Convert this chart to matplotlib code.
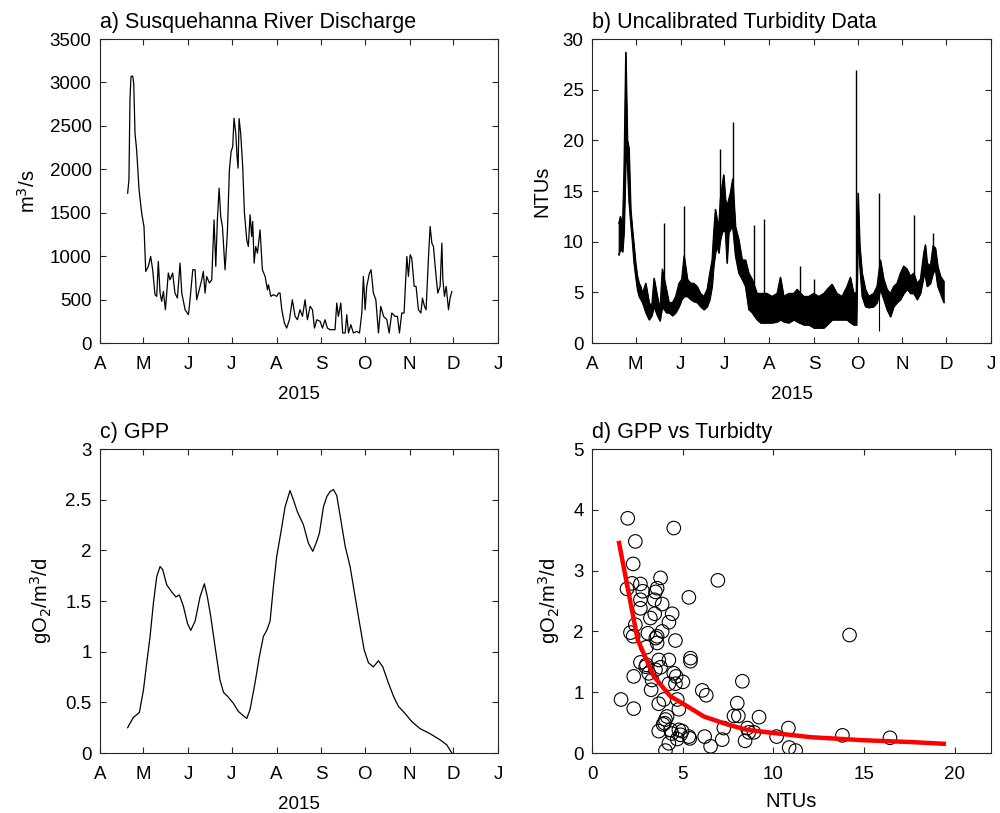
import numpy as np
import matplotlib
matplotlib.use('Agg')
import matplotlib.pyplot as plt

plt.rcParams['font.family'] = ['Liberation Sans', 'DejaVu Sans']

# month ticks, days since 1 Apr 2015
month_days = [0, 30, 61, 91, 122, 153, 183, 214, 244, 275]
month_labels = ['A', 'M', 'J', 'J', 'A', 'S', 'O', 'N', 'D', 'J']

# a) discharge (days since 1 Apr, m3/s)
q_day = [19.1, 20.0, 20.7, 21.4, 22.6, 23.3, 24.2, 25.3, 27.0, 28.8, 30.4, 31.6, 33.4, 35.0,
         36.4, 38.0, 39.2, 40.3, 41.5, 42.6, 43.8, 45.2, 47.2, 48.4, 50.2, 51.8, 53.5, 55.3,
         56.5, 58.8, 61.1, 62.2, 64.1, 65.7, 66.8, 68.0, 70.3, 71.4, 72.6, 73.7, 75.6, 77.2,
         78.8, 80.0, 81.1, 82.3, 83.4, 84.6, 86.4, 88.0, 89.4, 90.6, 91.7, 92.6, 93.8, 94.7,
         95.4, 96.1, 97.2, 98.6, 99.8, 101.4, 102.5, 103.7, 104.8, 105.5, 106.5, 107.6, 108.8,
         110.6, 112.2, 114.1, 115.7, 116.4, 118.0, 119.8, 122.1, 123.3, 124.4, 125.6, 127.4,
         129.0, 130.9, 132.9, 134.8, 136.4, 138.2, 139.9, 141.7, 143.3, 145.2, 146.8, 148.2,
         149.8, 152.1, 153.7, 155.5, 157.1, 159.0, 162.4, 163.6, 164.7, 166.4, 167.7, 169.4,
         170.5, 171.7, 173.3, 175.1, 177.4, 179.3, 180.9, 182.0, 183.2, 184.3, 186.2, 187.3,
         188.9, 190.6, 192.4, 194.0, 195.9, 198.2, 199.8, 201.6, 203.9, 205.5, 206.9, 208.5,
         210.1, 212.0, 213.1, 214.3, 215.4, 217.1, 218.4, 220.0, 221.7, 222.8, 224.2, 225.3,
         227.0, 228.1, 229.3, 230.4, 232.0, 233.4, 235.0, 236.2, 236.9, 238.0, 239.2, 240.8,
         241.9, 243.1]
q_val = [1725, 1880, 2800, 3067, 3075, 2990, 2415, 2223, 1763, 1495, 1340, 824, 882, 997,
         843, 556, 537, 939, 575, 479, 594, 383, 805, 728, 805, 575, 517, 920,
         575, 383, 326, 498, 843, 843, 498, 575, 728, 824, 575, 766, 690, 728,
         1418, 882, 1418, 1783, 1457, 1341, 843, 1265, 1993, 2204, 2262, 2588, 2415, 2147,
         2013, 2584, 2415, 2032, 1495, 1188, 1111, 1476, 1226, 1399, 920, 1111, 1035,
         1303, 843, 766, 613, 671, 537, 556, 537, 575, 575, 383, 230,
         172, 268, 498, 307, 268, 383, 307, 498, 268, 422, 383, 172,
         268, 249, 172, 268, 172, 153, 153, 460, 307, 460, 115, 115,
         326, 115, 211, 115, 134, 115, 345, 767, 383, 652, 805, 843,
         575, 498, 115, 422, 307, 268, 115, 345, 307, 307, 115, 345,
         345, 997, 767, 1016, 978, 652, 652, 383, 345, 517, 422, 383,
         997, 1341, 1150, 1111, 805, 575, 652, 1150, 728, 537, 652, 383,
         517, 594]

# b) turbidity: envelope of the noisy record plus isolated spikes (NTU)
turb_day = [18.4, 19.5, 21.0, 22.0, 23.2, 24.3, 25.4, 26.6, 27.8, 28.9, 30.0, 31.2, 32.4, 33.5,
            34.7, 37.0, 39.3, 41.1, 42.7, 45.0, 46.8, 48.4, 51.2, 53.0, 55.4, 57.6, 59.9, 61.8,
            63.4, 65.7, 68.0, 70.1, 72.4, 74.7, 77.0, 79.3, 81.1, 82.7, 83.8, 85.0, 86.1, 87.3,
            88.4, 89.6, 90.7, 91.9, 93.0, 94.2, 95.3, 96.9, 98.8, 101.1, 103.4, 105.7, 108.0,
            110.3, 113.7, 116.0, 120.6, 124.1, 127.5, 129.8, 132.1, 135.5, 139.0, 141.3, 145.9,
            149.3, 152.8, 156.2, 159.7, 162.0, 165.4, 168.8, 172.3, 175.7, 178.0, 180.3, 182.2,
            183.3, 184.5, 186.1, 188.4, 190.7, 194.1, 196.4, 198.7, 201.0, 203.3, 205.6, 207.9,
            210.2, 212.5, 214.8, 217.1, 219.4, 221.7, 224.0, 226.3, 228.6, 229.7, 230.9, 233.2,
            235.0, 236.6, 238.2, 240.1, 242.4]
turb_lo = [8.7, 9.3, 9.0, 11.0, 18.0, 17.8, 14.0, 11.9, 9.9, 7.9, 6.6, 5.3, 4.6, 4.3,
           4.0, 3.0, 2.3, 2.7, 3.6, 2.7, 2.2, 3.6, 3.0, 3.0, 2.7, 3.0, 3.6, 4.3,
           4.6, 4.6, 4.3, 4.1, 4.0, 3.6, 3.3, 3.6, 4.3, 5.6, 7.6, 8.9, 9.6, 8.9,
           10.2, 10.9, 11.2, 10.9, 7.9, 10.9, 11.2, 11.5, 8.6, 6.9, 6.3, 5.6, 3.3,
           3.0, 2.3, 2.0, 2.0, 2.0, 2.1, 2.3, 2.1, 2.0, 2.3, 2.1, 1.8,
           1.8, 1.5, 1.5, 1.5, 1.8, 2.3, 2.3, 2.3, 2.3, 2.0, 1.8, 1.8,
           10.9, 7.6, 4.6, 3.6, 3.5, 3.6, 4.0, 5.3, 4.3, 3.3, 2.6, 3.6,
           4.0, 4.3, 4.9, 5.3, 4.9, 4.9, 4.3, 4.9, 6.6, 6.6, 5.6, 5.9,
           6.9, 7.3, 5.6, 4.9, 4.0]
turb_hi = [11.8, 12.5, 11.5, 17.1, 28.7, 20.1, 19.2, 13.2, 11.2, 9.6, 7.9, 6.6, 5.9, 5.6,
           4.9, 5.9, 4.0, 3.6, 6.4, 4.6, 3.3, 7.3, 5.3, 4.0, 4.0, 4.6, 5.9, 6.3,
           8.6, 6.3, 5.9, 5.9, 5.6, 4.9, 4.6, 5.3, 6.9, 8.2, 10.9, 13.2, 12.2, 11.5,
           14.2, 15.5, 16.6, 14.2, 13.5, 14.2, 14.8, 16.2, 11.5, 10.2, 8.2, 8.2, 6.9,
           6.3, 4.9, 4.9, 4.9, 4.6, 4.9, 6.5, 4.6, 4.9, 4.9, 5.3, 4.6,
           4.6, 4.9, 4.6, 4.9, 5.3, 5.8, 4.9, 4.6, 5.6, 6.5, 4.9, 5.0,
           14.8, 9.6, 6.9, 5.3, 4.6, 4.9, 5.6, 8.2, 6.3, 5.3, 4.9, 5.6,
           5.9, 6.9, 7.6, 7.3, 6.6, 6.9, 5.9, 6.3, 8.9, 9.7, 7.9, 7.6,
           9.6, 9.4, 7.6, 6.6, 6.1]
spike_day = [49.8, 63.4, 88.4, 96.9, 111.9, 118.8, 143.1, 152.8, 182.2, 197.6, 221.7, 235.0]
spike_val = [11.8, 13.5, 19.1, 21.8, 11.6, 12.2, 7.6, 6.3, 26.9, 14.8, 12.6, 10.9]
dip_day = [197.6]
dip_val = [1.2]

# c) GPP (gO2/m3/d)
gpp_day = [19.1, 23.0, 27.2, 30.0, 32.3, 34.6, 36.9, 39.2, 41.5, 43.3, 46.1, 49.5, 52.5, 54.8,
           57.6, 60.4, 62.7, 65.7, 69.1, 72.1, 74.2, 76.5, 79.5, 82.9, 85.3, 88.7, 92.2, 95.6,
           101.4, 103.7, 107.1, 110.1, 112.9, 115.2, 117.5, 119.8, 122.1, 124.9, 127.9, 131.3,
           133.6, 136.4, 140.6, 144.0, 147.0, 149.8, 151.6, 154.4, 156.7, 159.0, 161.3, 163.6,
           166.4, 169.4, 172.8, 176.3, 179.7, 182.5, 185.5, 188.9, 192.4, 195.4, 199.3, 202.8,
           206.2, 210.8, 215.4, 221.2, 228.1, 235.0, 239.6, 243.1]
gpp_val = [0.25, 0.35, 0.40, 0.62, 0.89, 1.15, 1.48, 1.74, 1.84, 1.81, 1.66, 1.59, 1.54, 1.56,
           1.45, 1.28, 1.21, 1.30, 1.54, 1.67, 1.54, 1.35, 1.05, 0.72, 0.60, 0.55, 0.49, 0.41,
           0.34, 0.43, 0.69, 0.95, 1.15, 1.21, 1.30, 1.64, 1.94, 2.17, 2.43, 2.59,
           2.50, 2.38, 2.25, 2.07, 1.99, 2.09, 2.17, 2.43, 2.53, 2.58, 2.60, 2.54,
           2.30, 2.04, 1.84, 1.54, 1.25, 1.02, 0.89, 0.85, 0.91, 0.85, 0.69, 0.56,
           0.46, 0.39, 0.31, 0.24, 0.19, 0.13, 0.08, 0.00]

# d) daily GPP vs turbidity
sc_ntu = [1.97, 4.51, 2.39, 2.27, 6.94, 2.21, 1.93, 2.67, 2.80, 3.78, 3.59, 5.34, 2.67, 3.44,
          2.67, 3.87, 4.42, 3.46, 3.22, 4.24, 2.39, 2.12, 2.27, 3.08, 3.87, 3.59, 4.60, 3.59,
          3.00, 5.43, 5.43, 4.24, 3.68, 2.67, 3.00, 3.78, 3.50, 3.13, 4.51, 4.64, 2.30, 3.31,
          8.29, 5.01, 4.60, 4.24, 3.26, 6.08, 6.30, 1.60, 3.96, 4.70, 3.68, 8.01, 2.30, 4.79,
          9.21, 7.83, 8.07, 4.14, 4.05, 4.00, 3.92, 7.27, 10.83, 8.56, 4.79, 3.68, 4.33, 4.97,
          8.93, 8.65, 4.88, 5.34, 5.39, 6.21, 10.18, 13.81, 16.43, 7.18, 4.70, 8.44, 4.24, 6.54,
          10.87, 11.23, 4.05, 14.20, 3.50, 4.40, 2.96, 3.52]
sc_gpp = [3.86, 3.70, 3.48, 3.11, 2.84, 2.79, 2.70, 2.78, 2.66, 2.88, 2.71, 2.56, 2.52, 2.52,
          2.38, 2.45, 2.29, 2.29, 2.22, 2.15, 2.11, 1.98, 1.92, 1.97, 2.00, 1.92, 1.85, 1.81,
          1.74, 1.56, 1.51, 1.53, 1.53, 1.49, 1.45, 1.41, 1.37, 1.31, 1.31, 1.26, 1.26, 1.20,
          1.18, 1.17, 1.14, 1.14, 1.04, 1.03, 0.95, 0.88, 0.88, 0.88, 0.81, 0.82, 0.73, 0.72,
          0.59, 0.61, 0.61, 0.60, 0.55, 0.49, 0.47, 0.41, 0.41, 0.41, 0.38, 0.36, 0.38, 0.36,
          0.34, 0.34, 0.30, 0.27, 0.24, 0.27, 0.27, 0.29, 0.25, 0.22, 0.23, 0.20, 0.16, 0.11,
          0.09, 0.04, 0.04, 1.94, 2.65, 0.32, 1.42, 1.89]

# fitted curve as drawn
fit_ntu = [1.47, 2.52, 3.41, 4.33, 4.97, 6.17, 7.46, 8.56, 9.98, 12.06, 14.97, 17.59, 19.52]
fit_gpp = [3.49, 1.86, 1.26, 0.93, 0.82, 0.60, 0.47, 0.38, 0.33, 0.26, 0.21, 0.18, 0.15]

W, H = 1000, 813
fig = plt.figure(figsize=(W / 100, H / 100), dpi=100)

def box(l, t, r, b):
    return [l / W, 1 - b / H, (r - l) / W, (b - t) / H]

ax_a = fig.add_axes(box(100, 39, 498, 343))
ax_b = fig.add_axes(box(592, 39, 991, 343))
ax_c = fig.add_axes(box(100, 449, 498, 753))
ax_d = fig.add_axes(box(592, 449, 991, 753))

edge = '#262626'
for ax in (ax_a, ax_b, ax_c, ax_d):
    for s in ax.spines.values():
        s.set_color(edge)
        s.set_linewidth(0.8)
    ax.tick_params(direction='in', top=True, right=True, length=4, width=0.8,
                   color=edge, labelsize=13.5)
    ax.tick_params(axis='x', pad=9)
    ax.tick_params(axis='y', pad=6)

for ax in (ax_a, ax_b, ax_c):
    ax.set_xlim(month_days[0], month_days[-1])
    ax.set_xticks(month_days)
    ax.set_xticklabels(month_labels)
    ax.set_xlabel('2015', fontsize=13.5, labelpad=10)

ax_a.plot(q_day, q_val, color='k', lw=0.9)
ax_a.set_ylim(0, 3500)
ax_a.set_yticks(range(0, 3501, 500))
ax_a.set_ylabel('m$^3$/s', fontsize=14.5, labelpad=8)
ax_a.set_title('a) Susquehanna River Discharge', loc='left', fontsize=15.5, pad=8)

ax_b.fill_between(turb_day, turb_lo, turb_hi, color='k', lw=0.8)
ax_b.plot(turb_day, turb_hi, color='k', lw=0.8)
ax_b.plot(turb_day, turb_lo, color='k', lw=0.8)
ax_b.vlines(spike_day, np.interp(spike_day, turb_day, turb_lo), spike_val, color='k', lw=1.0)
ax_b.vlines(dip_day, dip_val, np.interp(dip_day, turb_day, turb_hi), color='k', lw=0.8)
ax_b.set_ylim(0, 30)
ax_b.set_yticks(range(0, 31, 5))
ax_b.set_ylabel('NTUs', fontsize=14.5, labelpad=8)
ax_b.set_title('b) Uncalibrated Turbidity Data', loc='left', fontsize=15.5, pad=8)

ax_c.plot(gpp_day, gpp_val, color='k', lw=0.9)
ax_c.set_ylim(0, 3)
ax_c.set_yticks([0, 0.5, 1, 1.5, 2, 2.5, 3])
ax_c.set_yticklabels(['0', '0.5', '1', '1.5', '2', '2.5', '3'])
ax_c.set_ylabel('gO$_2$/m$^3$/d', fontsize=14.5, labelpad=8)
ax_c.set_title('c) GPP', loc='left', fontsize=15.5, pad=8)

ax_d.scatter(sc_ntu, sc_gpp, s=95, facecolors='none', edgecolors='k', linewidths=0.8)
ax_d.plot(fit_ntu, fit_gpp, color='#ff0000', lw=3.2, solid_capstyle='butt')
ax_d.set_xlim(0, 22)
ax_d.set_ylim(0, 5)
ax_d.set_xticks([0, 5, 10, 15, 20])
ax_d.set_yticks(range(0, 6))
ax_d.set_xlabel('NTUs', fontsize=14.5, labelpad=7)
ax_d.set_ylabel('gO$_2$/m$^3$/d', fontsize=14.5, labelpad=8)
ax_d.set_title('d) GPP vs Turbidty', loc='left', fontsize=15.5, pad=8)

fig.savefig('out.png', dpi=100)
